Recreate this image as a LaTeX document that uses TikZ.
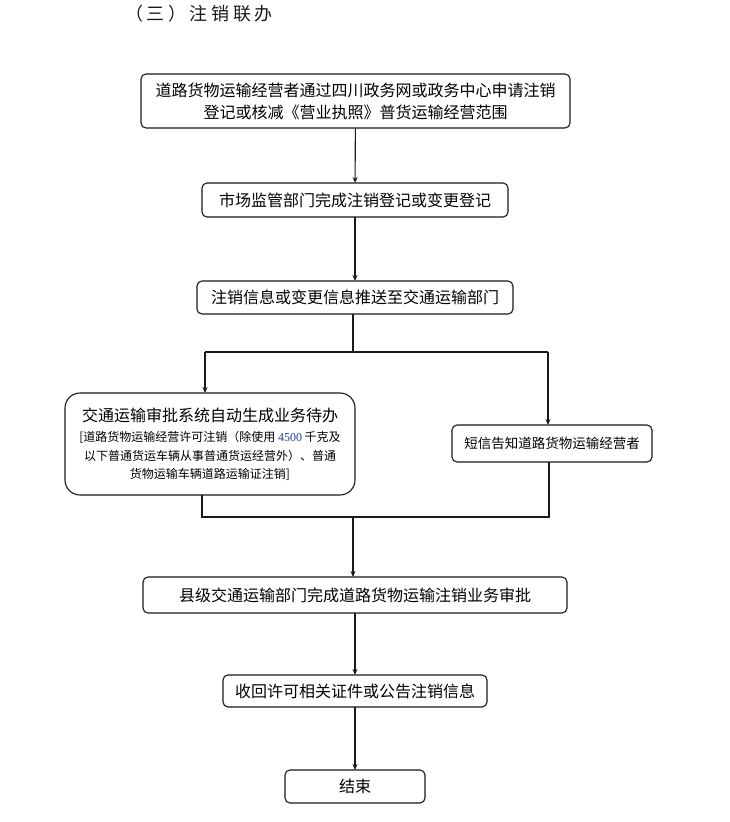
\documentclass[tikz,border=0pt]{standalone}
\usepackage{fontspec}
\setmainfont{Noto Sans CJK SC}
\newfontfamily\cjk{Noto Sans CJK SC}
\newfontfamily\numfont{Liberation Serif}
\usetikzlibrary{arrows.meta}
\definecolor{numblue}{RGB}{35,65,150}
\definecolor{linegray}{RGB}{25,25,25}
\begin{document}
\begin{tikzpicture}[x=1pt,y=-1pt,
  every node/.style={inner sep=0pt,outer sep=0pt},
  box/.style={draw=linegray,line width=1.1pt,rounded corners=5pt,align=center,font=\fontsize{16}{22}\selectfont,text=black},
  conn/.style={draw=linegray,line width=1.1pt},
  arr/.style={conn,-{Stealth[length=6pt,width=5pt]}}]
\useasboundingbox (0,0) rectangle (729,822);
\fill[white] (0,0) rectangle (729,822);
\node[font=\fontsize{18}{20}\selectfont\addfontfeatures{LetterSpace=20},text=black!90] (title) at (199,14) {（三）注销联办};
\node[box,minimum width=429pt,minimum height=54pt] (b1) at (355.5,101)
  {道路货物运输经营者通过四川政务网或政务中心申请注销\\登记或核减《营业执照》普货运输经营范围};
\node[box,minimum width=306pt,minimum height=34pt] (b2) at (355,200) {市场监管部门完成注销登记或变更登记};
\node[box,minimum width=316pt,minimum height=33pt] (b3) at (355,297.5) {注销信息或变更信息推送至交通运输部门};
\node[box,rounded corners=15pt,minimum width=290pt,minimum height=102pt,font=\fontsize{12}{18.5}\selectfont] (b4) at (210,444)
  {{\fontsize{16}{22}\selectfont 交通运输审批系统自动生成业务待办}\\[2pt]
   [道路货物运输经营许可注销（除使用 {\numfont\color{numblue}4500} 千克及\\
   以下普通货运车辆从事普通货运经营外）、普通\\
   货物运输车辆道路运输证注销]};
\node[box,minimum width=200pt,minimum height=37pt,font=\fontsize{13.5}{16}\selectfont] (b5) at (552,443.5) {短信告知道路货物运输经营者};
\node[box,minimum width=424pt,minimum height=36pt] (b6) at (355,595) {县级交通运输部门完成道路货物运输注销业务审批};
\node[box,minimum width=264pt,minimum height=32pt] (b7) at (355,691) {收回许可相关证件或公告注销信息};
\node[box,minimum width=140pt,minimum height=33pt] (b8) at (355,786.5) {结束};
\coordinate (join) at (353,352);
\coordinate (jL) at (205,352);
\coordinate (jR) at (548,352);
\coordinate (mL) at (202,517);
\coordinate (mR) at (549,517);
\coordinate (mC) at (353,517);
\draw[arr] (b1) -- (b2);
\draw[arr] (b2) -- (b3);
\draw[conn] (b3.south -| join) -- (join);
\draw[conn] (jL) -- (jR);
\draw[arr] (jL) -- (jL |- b4.north);
\draw[arr] (jR) -- (jR |- b5.north);
\draw[conn] (b4.south -| mL) -- (mL) -- (mR) -- (b5.south -| mR);
\draw[arr] (mC) -- (mC |- b6.north);
\draw[arr] (b6) -- (b7);
\draw[arr] (b7) -- (b8);
\end{tikzpicture}
\end{document}
